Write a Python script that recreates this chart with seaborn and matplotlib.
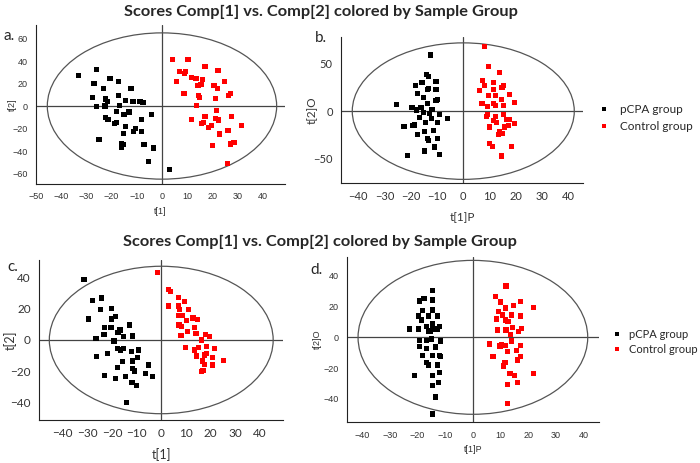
"""
PCA / OPLS-DA score plots (pCPA group vs Control group), four panels.
Saves the figure to out.png.
"""
import matplotlib
matplotlib.use("Agg")
import matplotlib.pyplot as plt
from matplotlib.patches import Ellipse
from matplotlib.ticker import MultipleLocator
import pandas as pd
import seaborn as sns


# --- data ------------------------------------------------------------
groups = ["pCPA group", "Control group"]
group_colors = {"pCPA group": "#000000", "Control group": "#ff0000"}

# panel a: t[1] vs t[2]
a_pcpa_x = [-33.0, -26.0, -27.0, -20.6, -23.1, -17.2, -12.3, -27.7, -22.3, -21.6,
            -26.0, -22.6, -17.2, -14.4, -11.5, -8.7, -7.5, -16.8, -17.9, -13.1,
            -15.1, -22.3, -21.4, -4.2, -8.1, -18.1, -18.9, -14.4, -10.6, -11.4,
            -8.1, -15.3, -25.0, -16.2, -15.2, -16.1, -7.1, -3.4, -5.2, 3.0]
a_pcpa_y = [27.4, 32.2, 19.7, 24.2, 15.8, 21.5, 15.8, 7.8, 6.3, 3.9,
            -0.6, 0.0, 9.2, 4.8, 4.2, 4.2, 3.3, 0.3, -4.8, -5.4,
            -7.8, -10.4, -12.2, -7.2, -12.2, -14.6, -15.8, -17.9, -19.7, -22.7,
            -23.0, -24.2, -29.6, -33.1, -34.3, -37.0, -34.3, -37.3, -49.3, -56.1]
a_ctrl_x = [4.1, 10.3, 7.0, 9.2, 9.0, 5.8, 11.8, 13.5, 16.2, 17.1,
            22.2, 24.8, 20.6, 21.9, 27.1, 26.4, 21.3, 14.3, 15.5, 8.7,
            14.5, 15.0, 13.6, 21.7, 11.8, 17.1, 21.1, 22.4, 27.7, 15.8,
            16.4, 19.8, 18.6, 31.6, 22.8, 26.2, 28.6, 27.2, 19.9, 26.0]
a_ctrl_y = [41.5, 41.5, 30.4, 31.0, 29.0, 22.1, 25.1, 24.2, 23.6, 34.9,
            31.6, 21.8, 18.5, 15.5, 11.0, 9.0, 6.6, 18.5, 19.1, 11.0,
            9.6, 7.8, 0.6, -3.9, -12.2, -9.3, -11.0, -12.5, -9.3, -15.8,
            -14.6, -17.3, -19.1, -17.6, -24.8, -21.8, -32.2, -33.7, -35.2, -51.0]

# panel b: t[1]P vs t[2]O
b_pcpa_x = [-12.4, -14.1, -13.3, -18.2, -15.7, -10.4, -13.2, -13.7, -10.4, -17.3,
            -15.2, -9.9, -10.4, -13.7, -25.4, -19.5, -16.1, -11.9, -17.7, -15.2,
            -12.8, -8.9, -16.6, -12.0, -6.1, -18.4, -19.1, -22.5, -14.4, -9.7,
            -11.4, -14.7, -17.3, -13.7, -13.2, -9.9, -10.8, -14.7, -8.9, -21.3]
b_pcpa_y = [59.3, 38.9, 36.8, 26.7, 30.5, 30.9, 23.9, 22.8, 22.8, 18.9,
            14.0, 12.6, 10.9, 8.1, 6.7, 4.2, 4.2, 2.1, 1.1, -1.4,
            -2.5, -3.5, -6.7, -7.7, -7.4, -14.7, -15.1, -15.8, -11.9, -12.3,
            -20.4, -21.8, -24.9, -28.8, -31.2, -29.1, -37.9, -42.1, -45.6, -46.7]
b_ctrl_x = [8.0, 9.7, 13.9, 7.3, 11.6, 8.2, 6.3, 11.6, 14.7, 15.2,
            9.7, 12.4, 17.7, 7.1, 9.2, 11.4, 12.4, 14.6, 15.2, 19.6,
            9.2, 8.9, 12.4, 11.4, 12.7, 15.4, 16.5, 17.7, 19.6, 15.8,
            17.1, 9.9, 13.9, 14.7, 13.3, 10.1, 11.1, 18.4, 14.6]
b_ctrl_y = [68.4, 46.7, 40.4, 32.3, 30.5, 26.7, 21.4, 22.8, 24.9, 27.4,
            16.5, 16.5, 17.5, 8.1, 4.9, 8.1, 6.0, 12.6, 5.6, 9.1,
            -3.2, -6.0, -6.0, -10.2, -11.9, -3.5, -9.1, -9.1, -13.0, -16.8,
            -15.4, -16.8, -21.8, -23.5, -24.9, -34.0, -37.5, -37.5, -47.4]

# panel c: t[1] vs t[2]
c_pcpa_x = [-31.4, -28.0, -24.2, -24.8, -29.5, -20.2, -20.2, -18.7, -23.0, -23.3,
            -26.5, -20.4, -16.8, -17.6, -15.4, -19.2, -13.0, -11.6, -17.9, -16.5,
            -15.4, -12.2, -9.2, -26.4, -21.9, -15.7, -11.8, -9.7, -17.9, -11.8,
            -10.8, -5.1, -6.5, -3.5, -23.1, -18.7, -14.5, -11.9, -9.9, -14.1]
c_pcpa_y = [38.4, 25.2, 26.7, 19.2, 13.4, 20.0, 13.4, 14.9, 7.9, 3.6,
            1.1, 7.9, 6.4, 4.9, 2.1, -0.6, 9.6, 2.6, -5.3, -6.4,
            -5.3, -7.5, -6.4, -10.7, -8.5, -13.9, -13.4, -11.3, -17.5, -18.1,
            -19.8, -16.0, -21.3, -23.5, -22.4, -24.7, -23.5, -27.3, -28.8, -40.1]
c_ctrl_x = [-1.5, 3.0, 3.7, 3.0, 6.9, 9.3, 7.1, 7.4, 11.2, 8.7,
            7.0, 10.3, 12.9, 14.9, 12.6, 7.2, 8.3, 13.4, 10.6, 8.0,
            14.1, 18.1, 19.6, 16.5, 9.7, 13.4, 15.3, 18.4, 21.5, 14.2,
            17.5, 18.5, 20.8, 25.4, 16.9, 17.5, 20.8, 16.4, 17.0]
c_ctrl_y = [43.1, 32.0, 31.1, 21.7, 26.9, 24.3, 21.7, 19.6, 19.6, 15.8,
            15.8, 12.6, 14.3, 13.2, 13.9, 9.6, 8.5, 7.9, 5.3, 3.0,
            4.1, 3.6, 2.1, 0.0, -4.7, -6.4, -4.7, -4.1, -5.3, -10.2,
            -9.6, -8.5, -11.1, -13.2, -13.4, -15.6, -16.0, -20.3, -19.4]

# panel d: t[1]P vs t[2]O
d_pcpa_x = [-14.7, -17.7, -19.2, -14.7, -18.2, -14.7, -19.6, -16.0, -18.6, -12.9,
            -14.7, -23.0, -19.6, -16.7, -16.0, -14.7, -12.9, -12.2, -15.3, -19.4,
            -16.7, -14.9, -11.6, -19.2, -16.7, -13.4, -18.2, -14.7, -12.0, -11.6,
            -16.9, -16.0, -12.9, -21.0, -14.7, -12.2, -12.4, -14.7, -13.4, -14.7]
d_pcpa_y = [30.5, 25.3, 23.6, 24.2, 17.3, 17.7, 13.9, 13.9, 11.3, 13.9,
            9.1, 5.4, 5.4, 6.9, 4.1, 5.4, 5.4, 7.1, 3.7, -2.2,
            -1.9, -1.1, -2.4, -6.1, -7.1, -6.3, -11.7, -11.7, -11.7, -12.6,
            -16.2, -18.0, -18.0, -24.9, -24.9, -22.9, -29.2, -31.2, -38.7, -49.8]
d_ctrl_x = [12.0, 8.2, 9.9, 17.3, 14.7, 11.8, 22.0, 9.4, 10.7, 14.0,
            17.2, 8.6, 11.8, 12.7, 9.0, 12.0, 14.2, 17.7, 16.6, 13.7,
            13.9, 5.9, 9.8, 10.4, 11.8, 17.2, 12.5, 15.8, 7.3, 11.6,
            11.2, 16.0, 17.2, 13.4, 14.9, 22.0, 12.5, 16.1, 12.5]
d_ctrl_y = [33.3, 26.6, 22.9, 23.4, 20.6, 19.0, 19.5, 16.7, 14.5, 14.5,
            13.9, 11.9, 11.3, 10.4, 4.8, 4.8, 6.5, 5.6, 3.7, 1.9,
            -2.4, -4.3, -5.6, -4.8, -5.2, -5.2, -9.3, -8.7, -12.3, -16.5,
            -18.6, -14.7, -12.6, -23.4, -24.9, -23.4, -30.5, -29.4, -42.9]


def make_frame(px, py, cx, cy):
    return pd.DataFrame({
        "x": px + cx,
        "y": py + cy,
        "group": [groups[0]] * len(px) + [groups[1]] * len(cx),
    })


def draw_panel(ax, df, xlim, ylim, ell, xticks, yticks, xlabel, ylabel,
               label_pos, font, tick_size, label_size, legend=False):
    sns.scatterplot(data=df, x="x", y="y", hue="group", hue_order=groups,
                    palette=group_colors, marker="s", s=14, linewidth=0,
                    ax=ax, legend=legend, zorder=3)
    # Hotelling T2 ellipse and crosshair
    ax.add_patch(Ellipse((0, 0), 2 * ell[0], 2 * ell[1], fill=False,
                         ec="#555555", lw=0.9, zorder=2))
    ax.axhline(0, color="#444444", lw=0.9, zorder=1)
    ax.axvline(0, color="#444444", lw=0.9, zorder=1)
    ax.set_xlim(*xlim)
    ax.set_ylim(*ylim)
    ax.xaxis.set_major_locator(MultipleLocator(xticks[0]))
    ax.xaxis.set_minor_locator(MultipleLocator(xticks[1]))
    ax.yaxis.set_major_locator(MultipleLocator(yticks[0]))
    ax.yaxis.set_minor_locator(MultipleLocator(yticks[1]))
    ax.tick_params(which="both", direction="inout", length=5, width=0.8,
                   color="#222222", labelsize=tick_size, labelcolor="#333333")
    for lab in ax.get_xticklabels() + ax.get_yticklabels():
        lab.set_family(font)
    ax.set_xlabel(xlabel, family=font, fontsize=label_size, color="#333333",
                  va="center", ha="center")
    ax.set_ylabel(ylabel, family=font, fontsize=label_size, color="#333333",
                  va="center", ha="center")
    ax.xaxis.set_label_coords(0.5, label_pos[1])
    ax.yaxis.set_label_coords(label_pos[0], 0.5)
    for side in ["top", "right"]:
        ax.spines[side].set_visible(False)
    for side in ["left", "bottom"]:
        ax.spines[side].set_color("#222222")
        ax.spines[side].set_linewidth(0.8)


sns.set_style("white")
plt.rcParams["font.family"] = ["Lato", "DejaVu Sans"]

fig = plt.figure(figsize=(7, 4.63), dpi=100)

ax_a = fig.add_axes([0.0514, 0.6026, 0.3557, 0.3434])
ax_b = fig.add_axes([0.4871, 0.6048, 0.3457, 0.3153])
ax_c = fig.add_axes([0.0557, 0.0929, 0.3486, 0.3456])
ax_d = fig.add_axes([0.4953, 0.0879, 0.3609, 0.3577])

draw_panel(ax_a, make_frame(a_pcpa_x, a_pcpa_y, a_ctrl_x, a_ctrl_y),
           (-50, 48.8), (-69.3, 72), (45.5, 65), (10, 5), (20, 10),
           "t[1]", "t[2]", (-0.096, -0.176), "Liberation Sans", 6.5, 6.5)
draw_panel(ax_b, make_frame(b_pcpa_x, b_pcpa_y, b_ctrl_x, b_ctrl_y),
           (-46.5, 45.5), (-75.8, 78.2), (42.2, 72), (10, 5), (50, 25),
           "t[1]P", "t[2]O", (-0.12, -0.24), "Lato", 8, 8.5, legend=True)
draw_panel(ax_c, make_frame(c_pcpa_x, c_pcpa_y, c_ctrl_x, c_ctrl_y),
           (-49.7, 49.5), (-51, 51), (45.5, 47), (10, 5), (20, 10),
           "t[1]", "t[2]", (-0.119, -0.219), "Lato", 8.5, 9)
draw_panel(ax_d, make_frame(d_pcpa_x, d_pcpa_y, d_ctrl_x, d_ctrl_y),
           (-45.6, 45.7), (-55.2, 52.4), (41.5, 50), (10, 5), (20, 10),
           "t[1]P", "t[2]O", (-0.114, -0.167), "Liberation Sans", 6.5, 6.5,
           legend=True)

# legends sit right of panels b and d (positions in figure pixels)
for ax, (lx, ly), size, spacing, pad in [(ax_b, (599, 118), 8.5, 0.5, 1.0),
                                         (ax_d, (613, 342), 8, 0.4, 0.6)]:
    sns.move_legend(ax, "center left", bbox_to_anchor=(lx / 700, 1 - ly / 463),
                    bbox_transform=fig.transFigure, frameon=False, title=None,
                    fontsize=size, markerscale=0.9, handlelength=0.8,
                    handletextpad=pad, labelspacing=spacing,
                    borderpad=0, borderaxespad=0)

title = "Scores Comp[1] vs. Comp[2] colored by Sample Group"
fig.text(0.459, 1 - 12 / 463, title, ha="center", va="center",
         fontsize=11.8, fontweight="bold")
fig.text(0.457, 1 - 242 / 463, title, ha="center", va="center",
         fontsize=11.8, fontweight="bold")

for lbl, x, y in [("a.", 3, 36), ("b.", 315, 38), ("c.", 7, 267), ("d.", 310, 270)]:
    fig.text(x / 700, 1 - y / 463, lbl, ha="left", va="center", fontsize=11)

fig.savefig("out.png", dpi=100)
